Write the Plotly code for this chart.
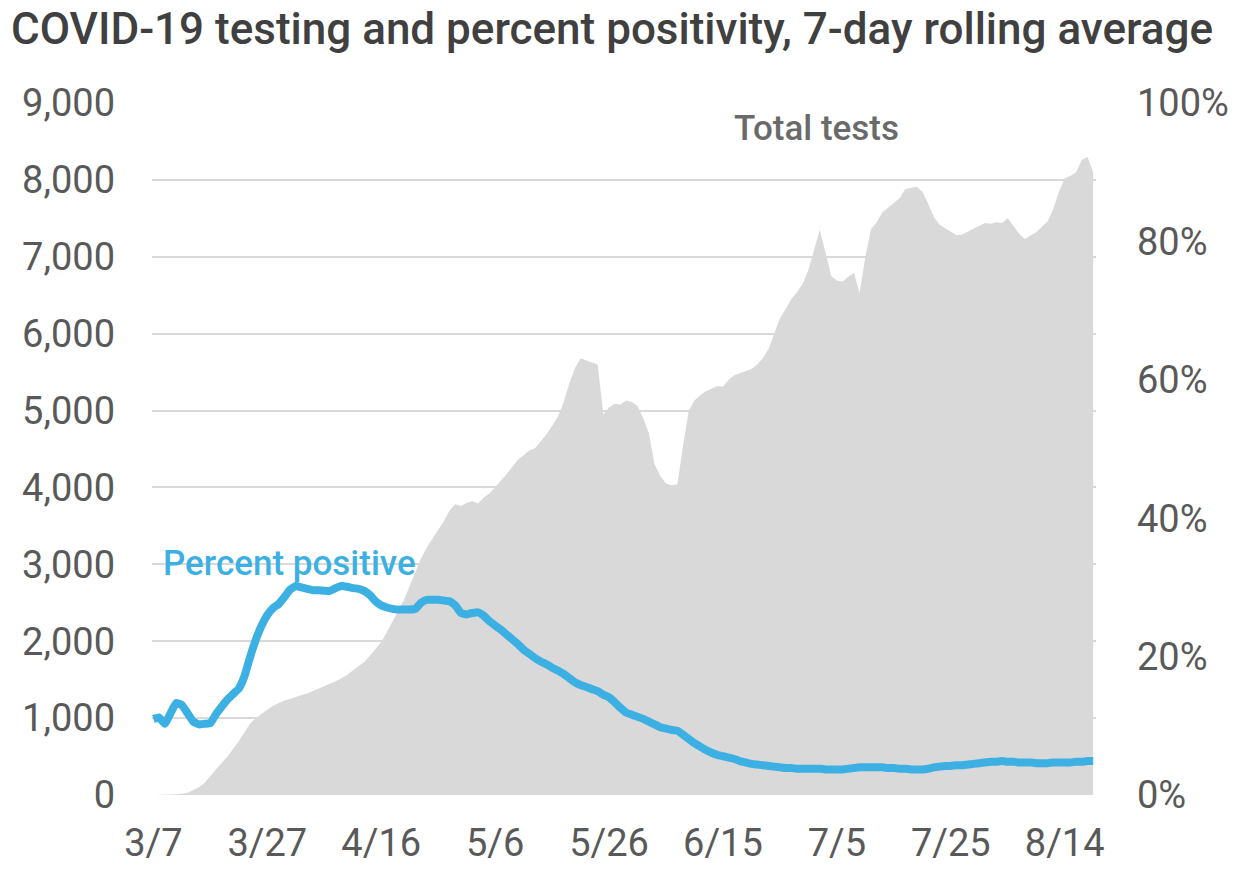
import pandas as pd
import plotly.graph_objects as go

start_date = "2020-03-07"
total_tests = [
    0, 0, 0, 5, 10, 15, 30, 60, 100, 160,
    250, 340, 420, 500, 600, 700, 820, 930, 1000, 1060,
    1110, 1160, 1200, 1230, 1250, 1280, 1300, 1320, 1350, 1380,
    1410, 1440, 1480, 1520, 1560, 1620, 1680, 1730, 1810, 1900,
    1990, 2120, 2260, 2400, 2540, 2720, 2900, 3080, 3220, 3340,
    3450, 3560, 3700, 3780, 3760, 3800, 3820, 3790, 3870, 3920,
    4000, 4090, 4170, 4270, 4360, 4420, 4480, 4510, 4600, 4690,
    4800, 4920, 5100, 5350, 5550, 5680, 5650, 5620, 5600, 4950,
    5040, 5090, 5080, 5130, 5110, 5060, 4900, 4700, 4300, 4150,
    4050, 4030, 4040, 4550, 5000, 5130, 5200, 5250, 5290, 5320,
    5310, 5400, 5460, 5490, 5520, 5540, 5600, 5680, 5800, 6000,
    6200, 6320, 6450, 6540, 6650, 6830, 7100, 7350, 7060, 6750,
    6690, 6680, 6740, 6790, 6530, 7000, 7360, 7450, 7580, 7640,
    7700, 7760, 7880, 7900, 7910, 7850, 7700, 7520, 7420, 7370,
    7330, 7280, 7290, 7330, 7360, 7400, 7440, 7430, 7450, 7440,
    7500, 7400, 7300, 7230, 7270, 7320, 7390, 7460, 7620, 7850,
    8020, 8050, 8100, 8260, 8300, 8100,
]
percent_positive = [
    11.0, 11.2, 10.3, 11.8, 13.3, 13.0, 11.8, 10.6, 10.2, 10.3,
    10.4, 11.7, 12.8, 13.8, 14.6, 15.4, 17.2, 20.0, 22.5, 24.5,
    26.0, 27.0, 27.6, 28.6, 29.7, 30.2, 30.0, 29.8, 29.6, 29.6,
    29.5, 29.5, 29.9, 30.2, 30.1, 29.9, 29.8, 29.5, 28.9, 28.0,
    27.4, 27.1, 26.9, 26.8, 26.8, 26.8, 26.9, 27.8, 28.2, 28.2,
    28.2, 28.1, 28.0, 27.4, 26.3, 26.1, 26.3, 26.4, 25.9, 25.1,
    24.5, 23.9, 23.2, 22.5, 21.8, 21.0, 20.4, 19.8, 19.3, 18.9,
    18.4, 18.0, 17.5, 16.9, 16.3, 15.9, 15.6, 15.3, 15.0, 14.5,
    14.1, 13.4, 12.6, 11.9, 11.6, 11.3, 11.0, 10.6, 10.2, 9.8,
    9.6, 9.4, 9.3, 8.7, 8.1, 7.5, 7.0, 6.5, 6.1, 5.8,
    5.6, 5.4, 5.2, 4.9, 4.7, 4.5, 4.4, 4.3, 4.2, 4.1,
    4.0, 3.9, 3.9, 3.8, 3.8, 3.8, 3.8, 3.8, 3.7, 3.7,
    3.7, 3.7, 3.8, 3.9, 4.0, 4.0, 4.0, 4.0, 4.0, 3.9,
    3.9, 3.8, 3.8, 3.7, 3.7, 3.7, 3.8, 4.0, 4.1, 4.2,
    4.2, 4.3, 4.3, 4.4, 4.5, 4.6, 4.7, 4.8, 4.8, 4.9,
    4.8, 4.8, 4.7, 4.7, 4.7, 4.6, 4.6, 4.6, 4.7, 4.7,
    4.7, 4.7, 4.8, 4.8, 4.9, 4.9,
]
x_tick_labels = ["3/7", "3/27", "4/16", "5/6", "5/26", "6/15", "7/5", "7/25", "8/14"]
left_ticks = [0, 1000, 2000, 3000, 4000, 5000, 6000, 7000, 8000, 9000]
right_ticks = [0, 20, 40, 60, 80, 100]
right_tick_labels = ["0%", "20%", "40%", "60%", "80%", "100%"]

dates = pd.date_range(start_date, periods=len(total_tests), freq="D")
tick_dates = pd.date_range(start_date, periods=len(x_tick_labels), freq="20D")

FONT = "Roboto"
GRAY = "#595959"
BLUE = "#3db0e3"

W, H = 1241, 877
L, R, T, B = 152, 138, 103, 72
PW, PH = W - L - R, H - T - B

fig = go.Figure()
fig.add_trace(go.Scatter(
    x=dates, y=total_tests, mode="lines", fill="tozeroy",
    fillcolor="#d9d9d9", line=dict(width=0, color="#d9d9d9"),
    name="Total tests", hoverinfo="skip",
))
fig.add_trace(go.Scatter(
    x=dates, y=percent_positive, mode="lines", yaxis="y2",
    line=dict(width=8, color=BLUE, shape="spline", smoothing=0.4),
    name="Percent positive", hoverinfo="skip",
))

fig.update_layout(
    width=W, height=H,
    margin=dict(l=L, r=R, t=T, b=B),
    paper_bgcolor="white", plot_bgcolor="white",
    showlegend=False,
    font=dict(family=FONT, color=GRAY, size=38),
    title=dict(
        text="COVID-19 testing and percent positivity, 7-day rolling average",
        x=11 / W, xanchor="left", xref="container",
        y=1 - 29 / H, yanchor="middle", yref="container",
        font=dict(family=FONT, size=44, color="#404040", weight=500),
    ),
    xaxis=dict(
        range=[dates[0] - pd.Timedelta(hours=6), dates[-1] + pd.Timedelta(hours=12)],
        tickvals=tick_dates, ticktext=x_tick_labels,
        showgrid=False, zeroline=False, showline=False, ticks="",
        tickfont=dict(size=38, color=GRAY),
        ticklabelstandoff=22,
    ),
    yaxis=dict(
        range=[0, 9000], tickvals=left_ticks, tickformat=",d",
        showgrid=True, gridcolor="#d9d9d9", gridwidth=2,
        zeroline=False, showline=False, ticks="",
        tickfont=dict(size=38, color=GRAY),
        ticklabelstandoff=36,
    ),
    yaxis2=dict(
        range=[0, 100], tickvals=right_ticks, ticktext=right_tick_labels,
        overlaying="y", side="right",
        showgrid=False, zeroline=False, showline=False, ticks="",
        tickfont=dict(size=38, color=GRAY),
        ticklabelstandoff=40,
    ),
    annotations=[
        dict(text="Total tests", xref="paper", yref="paper",
             x=(821 - L) / PW, y=(H - B - 129) / PH,
             xanchor="center", yanchor="middle", showarrow=False,
             font=dict(family=FONT, size=35, color="#6a6a6a", weight=500)),
        dict(text="Percent positive", xref="paper", yref="paper",
             x=(161 - L) / PW, y=(H - B - 570) / PH,
             xanchor="left", yanchor="middle", showarrow=False,
             font=dict(family=FONT, size=35, color=BLUE, weight=500)),
    ],
)

fig.write_html(
    "out.html",
    config={"displayModeBar": False, "staticPlot": True},
    post_script="document.body.style.margin='0';",
)
